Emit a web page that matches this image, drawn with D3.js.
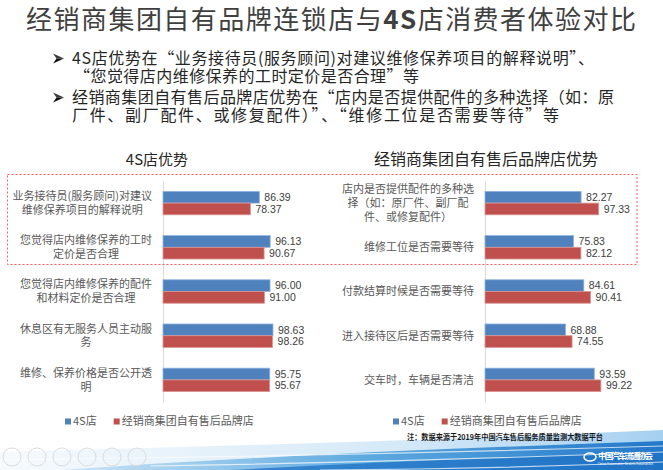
<!DOCTYPE html>
<html>
<head>
<meta charset="utf-8">
<script src="https://cdn.jsdelivr.net/npm/d3@7"></script>
<style>
  body { margin: 0; background: #fff; }
  svg text { font-family: "Noto Sans CJK SC", "Noto Sans", sans-serif; }
  svg text.num { font-family: "Liberation Sans", Arial, sans-serif; }
</style>
</head>
<body>
<div id="slide"></div>
<script>
// series + data
const seriesNames = ['4S店', '经销商集团自有售后品牌店'];
const seriesColors = ['#4f81bd', '#c0504d'];
const seriesStrokes = ['#8db3e2', '#d99694'];

const leftTitle = '4S店优势';
const leftCategories = [
  '业务接待员(服务顾问)对建议\n维修保养项目的解释说明',
  '您觉得店内维修保养的工时\n定价是否合理',
  '您觉得店内维修保养的配件\n和材料定价是否合理',
  '休息区有无服务人员主动服\n务',
  '维修、保养价格是否公开透\n明'
];
const left4S = [86.39, 96.13, 96.00, 98.63, 95.75];
const leftDealer = [78.37, 90.67, 91.00, 98.26, 95.67];

const rightTitle = '经销商集团自有售后品牌店优势';
const rightCategories = [
  '店内是否提供配件的多种选\n择（如：原厂件、副厂配\n件、或修复配件）',
  '维修工位是否需要等待',
  '付款结算时候是否需要等待',
  '进入接待区后是否需要等待',
  '交车时，车辆是否清洁'
];
const right4S = [82.27, 75.83, 84.61, 68.88, 93.59];
const rightDealer = [97.33, 82.12, 90.41, 74.55, 99.22];

const bulletLines = [
  '4S店优势在“业务接待员(服务顾问)对建议维修保养项目的解释说明”、',
  '“您觉得店内维修保养的工时定价是否合理”等',
  '经销商集团自有售后品牌店优势在“店内是否提供配件的多种选择（如：原',
  '厂件、副厂配件、或修复配件）”、“维修工位是否需要等待”等'
];
const noteText = '注：数据来源于2019年中国汽车售后服务质量监测大数据平台';

const width = 663, height = 470;

const svg = d3.select('#slide').append('svg')
    .attr('width', width)
    .attr('height', height);

svg.append('rect').attr('width', width).attr('height', height).attr('fill', '#fff');

// bottom swoosh decoration
const defs = svg.append('defs');
const g1 = defs.append('linearGradient').attr('id', 'g1');
g1.append('stop').attr('offset', '0%').attr('stop-color', '#f6fafd');
g1.append('stop').attr('offset', '60%').attr('stop-color', '#d5e9f8');
g1.append('stop').attr('offset', '100%').attr('stop-color', '#a6d0f0');
const g2 = defs.append('linearGradient').attr('id', 'g2');
g2.append('stop').attr('offset', '0%').attr('stop-color', '#cfe6f7');
g2.append('stop').attr('offset', '50%').attr('stop-color', '#5eaae0');
g2.append('stop').attr('offset', '100%').attr('stop-color', '#2277c8');

const deco = svg.append('g').attr('class', 'deco');
deco.append('path')
    .attr('d', 'M0,452 C200,447 430,440 663,430 L663,470 L0,470 Z')
    .attr('fill', 'url(#g1)');
deco.append('path')
    .attr('d', 'M60,470 C260,456 460,448 663,441 L663,470 Z')
    .attr('fill', 'url(#g2)');
deco.append('path')
    .attr('d', 'M230,470 C400,461 540,456 663,453 L663,470 Z')
    .attr('fill', '#1f72c4').attr('opacity', 0.75);
[[0, 460, 663, 446], [150, 466, 663, 452], [320, 470, 663, 462]].forEach(s => {
  deco.append('path')
      .attr('d', `M${s[0]},${s[1]} Q${(s[0] + s[2]) / 2},${(s[1] + s[3]) / 2 + 3} ${s[2]},${s[3]}`)
      .attr('fill', 'none')
      .attr('stroke', '#fff')
      .attr('stroke-width', 1.2)
      .attr('opacity', 0.7);
});
// slideshow buttons
d3.range(6).forEach(i => {
  deco.append('circle')
      .attr('cx', 12 + i * 25).attr('cy', 457).attr('r', 9)
      .attr('fill', 'none').attr('stroke', '#dcdcdc').attr('stroke-width', 1);
});
deco.append('text')
    .attr('x', 598).attr('y', 459)
    .attr('fill', '#fff').attr('font-size', 8.5).attr('font-weight', 'bold')
    .attr('textLength', 55)
    .text('中国汽车流通协会');
deco.append('text')
    .attr('x', 598).attr('y', 464.5)
    .attr('fill', '#fff').attr('font-size', 3)
    .attr('textLength', 55)
    .text('China Automobile Dealers Association');
deco.append('ellipse')
    .attr('cx', 590).attr('cy', 457).attr('rx', 6).attr('ry', 4)
    .attr('fill', 'none').attr('stroke', '#fff').attr('stroke-width', 1.5);

// slide title
const title = svg.append('text')
    .attr('x', 26).attr('y', 29)
    .attr('font-size', 26)
    .attr('fill', '#3f3f3f')
    .attr('textLength', 610)
    .attr('lengthAdjust', 'spacing');
title.append('tspan').text('经销商集团自有品牌连锁店与');
title.append('tspan').attr('font-weight', 'bold').text('4S');
title.append('tspan').text('店消费者体验对比');

// bullet text
const bulletY = [64, 82, 103, 121];
const bulletX = [72, 74, 72, 72];
const bulletLen = [522, 345, 542, 487];
bulletLines.forEach((t, i) => {
  svg.append('text')
      .attr('x', bulletX[i]).attr('y', bulletY[i])
      .attr('font-size', 16)
      .attr('fill', '#262626')
      .attr('textLength', bulletLen[i])
      .attr('lengthAdjust', 'spacing')
      .text(t);
});
// arrowhead bullets
[0, 2].forEach(i => {
  const cy = bulletY[i] - 5.5;
  svg.append('path')
      .attr('d', `M53,${cy - 5} L64,${cy} L56.5,${cy} Z`)
      .attr('fill', '#3a3a3a');
  svg.append('path')
      .attr('d', `M53,${cy + 5} L64,${cy} L56.5,${cy} Z`)
      .attr('fill', '#111');
});

class Barchart {

  constructor(_config, _cats, _values) {
    this.config = {
      parent: _config.parent,
      title: _config.title,
      titleX: _config.titleX,
      titleSize: _config.titleSize,
      x0: _config.x0,
      xWidth: _config.xWidth,
      top: 181,
      bottom: 402,
      labelGap: 11,
      lineHeight: 13.8,
      legendX: _config.legendX,
      legendY: 421.5
    };
    this.categories = _cats;
    this.values = _values;
    this.initVis();
  }

  initVis() {
    let vis = this;

    vis.chart = vis.config.parent.append('g').attr('class', 'barchart');

    vis.xScale = d3.scaleLinear()
        .domain([0, 100])
        .range([vis.config.x0, vis.config.x0 + vis.config.xWidth]);

    vis.yScale = d3.scaleBand()
        .domain(d3.range(vis.categories.length))
        .range([vis.config.top, vis.config.bottom])
        .paddingInner(0.47)
        .paddingOuter(0.235);

    vis.sScale = d3.scaleBand()
        .domain(seriesNames)
        .range([0, vis.yScale.bandwidth()]);

    vis.yAxis = d3.axisLeft(vis.yScale)
        .tickSize(0)
        .tickSizeOuter(0)
        .tickFormat(() => '');

    vis.yAxisG = vis.chart.append('g')
        .attr('class', 'axis y-axis')
        .attr('transform', `translate(${vis.config.x0},0)`);

    vis.chart.append('text')
        .attr('x', vis.config.titleX).attr('y', 165)
        .attr('text-anchor', 'middle')
        .attr('font-size', vis.config.titleSize)
        .attr('fill', '#262626')
        .text(vis.config.title);

    vis.renderVis();
  }

  renderVis() {
    let vis = this;

    vis.yAxisG.call(vis.yAxis);
    vis.yAxisG.select('.domain').attr('stroke', '#d9d9d9');

    // flatten to one row per bar
    const rows = [];
    vis.values.forEach((arr, s) => {
      arr.forEach((v, i) => rows.push({ s: seriesNames[s], si: s, i: i, v: v }));
    });

    vis.chart.selectAll('.bar')
        .data(rows)
        .join('rect')
        .attr('class', 'bar')
        .attr('x', vis.xScale(0))
        .attr('y', d => vis.yScale(d.i) + vis.sScale(d.s))
        .attr('width', d => vis.xScale(d.v) - vis.xScale(0))
        .attr('height', vis.sScale.bandwidth())
        .attr('fill', d => seriesColors[d.si])
        .attr('stroke', d => seriesStrokes[d.si])
        .attr('stroke-width', 0.8);

    vis.chart.selectAll('.value')
        .data(rows)
        .join('text')
        .attr('class', 'value num')
        .attr('x', d => vis.xScale(d.v) + 5)
        .attr('y', d => vis.yScale(d.i) + vis.sScale(d.s) + vis.sScale.bandwidth() / 2)
        .attr('dy', '0.35em')
        .attr('font-size', 10.5)
        .attr('fill', '#404040')
        .text(d => d.v.toFixed(2));

    // wrapped category labels: block right aligned to the axis, lines centred in block
    const right = vis.config.x0 - vis.config.labelGap;
    vis.categories.forEach((c, i) => {
      const lines = c.split('\n');
      const cy = vis.yScale(i) + vis.yScale.bandwidth() / 2;
      const texts = lines.map((t, k) => vis.chart.append('text')
          .attr('class', 'cat')
          .attr('y', cy + (k - (lines.length - 1) / 2) * vis.config.lineHeight)
          .attr('dy', '0.35em')
          .attr('font-size', 11)
          .attr('fill', '#595959')
          .attr('text-anchor', 'middle')
          .text(t));
      const maxW = d3.max(texts, t => t.node().getComputedTextLength());
      texts.forEach(t => t.attr('x', right - maxW / 2));
    });

    // legend
    const lg = vis.chart.append('g')
        .attr('transform', `translate(${vis.config.legendX},${vis.config.legendY})`);
    let lx = 0;
    seriesNames.forEach((n, s) => {
      lg.append('rect')
          .attr('x', lx).attr('y', -3)
          .attr('width', 6).attr('height', 6)
          .attr('fill', seriesColors[s]);
      const t = lg.append('text')
          .attr('x', lx + 8).attr('dy', '0.35em')
          .attr('font-size', 11)
          .attr('fill', '#595959')
          .text(n);
      lx += 8 + t.node().getComputedTextLength() + 17;
    });
  }
}

new Barchart({
  parent: svg, title: leftTitle, titleX: 157, titleSize: 15,
  x0: 163, xWidth: 111.5, legendX: 65
}, leftCategories, [left4S, leftDealer]);

new Barchart({
  parent: svg, title: rightTitle, titleX: 486, titleSize: 16,
  x0: 485, xWidth: 116.8, legendX: 393
}, rightCategories, [right4S, rightDealer]);

// dashed highlight round the first two rows of both charts
svg.append('rect')
    .attr('x', 7.5).attr('y', 174.5)
    .attr('width', 629.5).attr('height', 90)
    .attr('fill', 'none')
    .attr('stroke', '#ff5b5b')
    .attr('stroke-width', 1)
    .attr('stroke-dasharray', '2,2');

svg.append('text')
    .attr('x', 407).attr('y', 440)
    .attr('font-size', 7.5)
    .attr('font-weight', 'bold')
    .attr('fill', '#1a1a1a')
    .attr('textLength', 196)
    .attr('lengthAdjust', 'spacingAndGlyphs')
    .text(noteText);
</script>
</body>
</html>
